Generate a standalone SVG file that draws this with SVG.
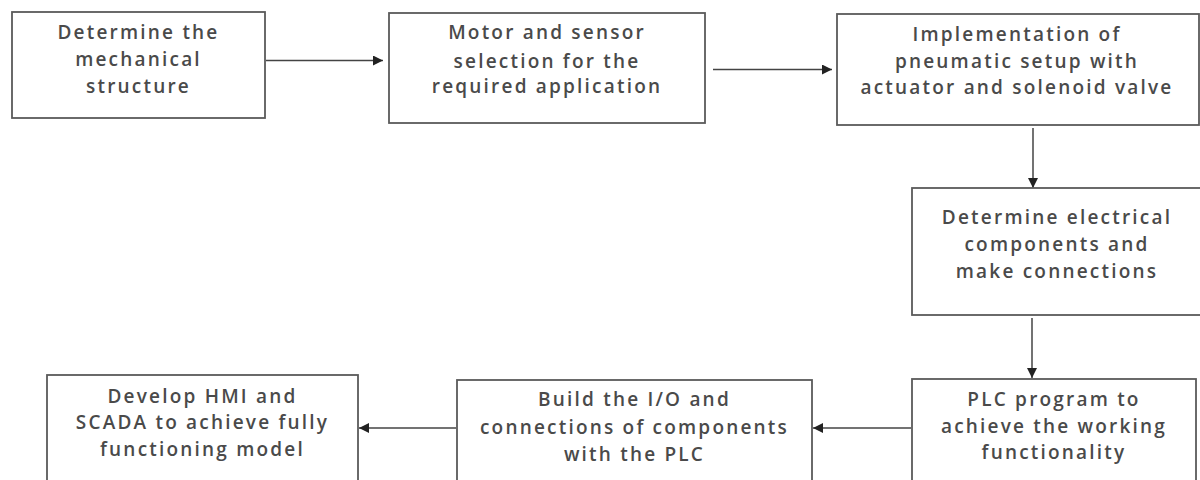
<svg xmlns="http://www.w3.org/2000/svg" width="1200" height="480" viewBox="0 0 1200 480">
<style>
.box{fill:#fff;stroke:#5a5a5a;stroke-width:1.8}
.t{font-family:"Open Sans","Liberation Sans",sans-serif;font-size:19px;font-weight:600;fill:#4a4a4a;text-anchor:middle;letter-spacing:2.2px}
.c{stroke:#444;stroke-width:1.5;fill:none;marker-end:url(#ah)}
</style>
<defs>
<marker id="ah" viewBox="0 0 10 10" refX="10" refY="5" markerWidth="10" markerHeight="10" markerUnits="userSpaceOnUse" orient="auto">
<path d="M0,0 L10,5 L0,10 z" fill="#222"/>
</marker>
</defs>
<rect width="1200" height="480" fill="#fff"/>
<g id="connectors">
<line class="c" x1="266" y1="60.5" x2="383" y2="60.5"/>
<line class="c" x1="713" y1="69.5" x2="832" y2="69.5"/>
<line class="c" x1="1033" y1="128" x2="1033" y2="188"/>
<line class="c" x1="1032" y1="318" x2="1032" y2="378"/>
<line class="c" x1="911" y1="428" x2="813" y2="428"/>
<line class="c" x1="456" y1="428" x2="359" y2="428"/>
</g>
<g id="n1">
<rect class="box" x="12" y="12" width="253" height="106"/>
<text class="t" x="138.5" y="39">Determine the</text>
<text class="t" x="138.5" y="66">mechanical</text>
<text class="t" x="138.5" y="93">structure</text>
</g>
<g id="n2">
<rect class="box" x="389" y="13" width="316" height="110"/>
<text class="t" x="547" y="39">Motor and sensor</text>
<text class="t" x="547" y="68">selection for the</text>
<text class="t" x="547" y="93">required application</text>
</g>
<g id="n3">
<rect class="box" x="837" y="14" width="362" height="111"/>
<text class="t" x="1017" y="41">Implementation of</text>
<text class="t" x="1017" y="68">pneumatic setup with</text>
<text class="t" x="1017" y="94">actuator and solenoid valve</text>
</g>
<g id="n4">
<rect class="box" x="912" y="188" width="290" height="127"/>
<text class="t" x="1057" y="224">Determine electrical</text>
<text class="t" x="1057" y="251">components and</text>
<text class="t" x="1057" y="278">make connections</text>
</g>
<g id="n5">
<rect class="box" x="912" y="379" width="284" height="120"/>
<text class="t" x="1054" y="406">PLC program to</text>
<text class="t" x="1054" y="433">achieve the working</text>
<text class="t" x="1054" y="459">functionality</text>
</g>
<g id="n6">
<rect class="box" x="457" y="380" width="355" height="120"/>
<text class="t" x="634.5" y="406">Build the I/O and</text>
<text class="t" x="634.5" y="434">connections of components</text>
<text class="t" x="634.5" y="461">with the PLC</text>
</g>
<g id="n7">
<rect class="box" x="47" y="375" width="311" height="125"/>
<text class="t" x="202.5" y="403">Develop HMI and</text>
<text class="t" x="202.5" y="429">SCADA to achieve fully</text>
<text class="t" x="202.5" y="456">functioning model</text>
</g>
</svg>
